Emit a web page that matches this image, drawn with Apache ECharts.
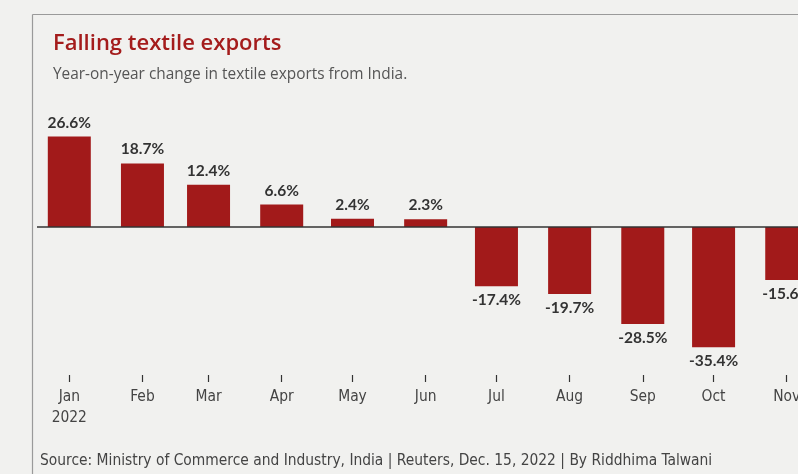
<!DOCTYPE html>
<html>
<head>
<meta charset="utf-8">
<script src="https://cdn.jsdelivr.net/npm/echarts@6/dist/echarts.min.js"></script>
<style>
    html, body { margin: 0; padding: 0; background: #f1f1ef; overflow: hidden; }
    #chart { width: 880px; height: 474px; }
</style>
</head>
<body>
<div id="chart"></div>
<script>
    var monthStarts = ['2022-01-01', '2022-02-01', '2022-03-01', '2022-04-01', '2022-05-01', '2022-06-01',
        '2022-07-01', '2022-08-01', '2022-09-01', '2022-10-01', '2022-11-01'];
    var monthLabels = ['Jan\n2022', 'Feb', 'Mar', 'Apr', 'May', 'Jun', 'Jul', 'Aug', 'Sep', 'Oct', 'Nov'];
    var changes = [26.6, 18.7, 12.4, 6.6, 2.4, 2.3, -17.4, -19.7, -28.5, -35.4, -15.6];

    var DAY = 86400000;
    var t0 = new Date(monthStarts[0] + 'T00:00:00Z').getTime();
    // days since Jan 1 2022 for each month start
    var days = monthStarts.map(function (d) { return Math.round((new Date(d + 'T00:00:00Z').getTime() - t0) / DAY); });
    var labelOf = {};
    days.forEach(function (d, i) { labelOf[d] = monthLabels[i]; });

    var narrow = '"Liberation Sans Narrow", "DejaVu Sans Condensed", sans-serif';
    var myChart = echarts.init(document.getElementById('chart'));

    // 2.36 px per day, Jan 1 at x=69.3
    var pxDay = 2.36;
    var gridLeft = 37;
    var axisMin = -(69.3 - gridLeft) / pxDay;
    var axisMax = 325;

    var option = {
        backgroundColor: '#f1f1ef',
        animation: false,
        title: {
            text: 'Falling textile exports',
            subtext: 'Year-on-year change in textile exports from India.',
            left: 53,
            top: 33,
            padding: 0,
            itemGap: 12,
            textStyle: {fontFamily: 'Open Sans', fontSize: 22, fontWeight: 600, color: '#a41c1c'},
            subtextStyle: {fontFamily: 'Open Sans', fontSize: 15.4, color: '#555'}
        },
        graphic: [
            // card border (left + top)
            {type: 'line', shape: {x1: 32.5, y1: 14.5, x2: 32.5, y2: 474}, style: {stroke: '#9a9a9a', lineWidth: 1.2}},
            {type: 'line', shape: {x1: 32.5, y1: 14.5, x2: 880, y2: 14.5}, style: {stroke: '#9a9a9a', lineWidth: 1.2}},
            {
                type: 'text', left: 40, top: 453,
                style: {
                    text: 'Source: Ministry of Commerce and Industry, India | Reuters, Dec. 15, 2022 | By Riddhima Talwani',
                    font: '15.4px ' + narrow, fill: '#444'
                }
            }
        ],
        grid: {left: gridLeft, top: 125, width: (axisMax - axisMin) * pxDay, height: 238},
        xAxis: {
            type: 'value',
            min: axisMin,
            max: axisMax,
            position: 'bottom',
            offset: 12,
            splitLine: {show: false},
            axisLine: {show: false, onZero: false},
            axisTick: {show: true, customValues: days, length: 7, lineStyle: {color: '#333', width: 1.2}},
            axisLabel: {
                customValues: days,
                margin: 11,
                fontFamily: narrow,
                fontSize: 15.4,
                color: '#444',
                lineHeight: 21,
                formatter: function (v) { return labelOf[Math.round(v)] || ''; }
            }
        },
        yAxis: {
            type: 'value',
            min: -40,
            max: 30,
            show: false
        },
        series: [{
            type: 'bar',
            barWidth: 43,
            itemStyle: {color: '#a21a1a'},
            data: changes.map(function (v, i) {
                return {value: [days[i], v], label: {position: v < 0 ? 'bottom' : 'top'}};
            }),
            label: {
                show: true,
                distance: 6,
                fontFamily: 'Lato',
                fontWeight: 'bold',
                fontSize: 15.5,
                color: '#333',
                formatter: function (p) { return p.value[1].toFixed(1) + '%'; }
            },
            markLine: {
                silent: true,
                symbol: 'none',
                label: {show: false},
                lineStyle: {color: '#333', width: 1.5, type: 'solid'},
                data: [{yAxis: 0}]
            }
        }]
    };
    myChart.setOption(option);
</script>
</body>
</html>
